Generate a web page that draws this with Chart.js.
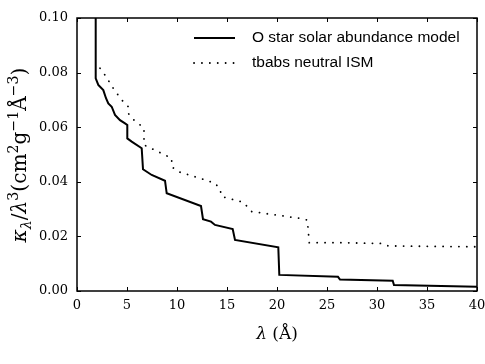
<!DOCTYPE html>
<html>
<head>
<meta charset="utf-8">
<script src="https://cdn.jsdelivr.net/npm/chart.js@4/dist/chart.umd.min.js"></script>
<style>
  html, body { margin: 0; padding: 0; background: #fff; }
  canvas { display: block; }
</style>
</head>
<body>
<canvas id="myChart" width="485" height="364"></canvas>
<script>
// data
const modelLabel = "O star solar abundance model";
const modelX = [1.87, 1.87, 2.13, 2.63, 2.9, 3.13, 3.47, 3.8, 4.3, 4.8, 5.03, 5.03, 5.47, 6.47, 6.6, 7.47, 8.8, 8.97, 12.4, 12.6, 13.4, 13.8, 15.57, 15.8, 20.13, 20.23, 26.1, 26.3, 31.57, 31.7, 40];
const modelY = [0.2, 0.0779, 0.0755, 0.0736, 0.0706, 0.0687, 0.0675, 0.0645, 0.0626, 0.0614, 0.0608, 0.0559, 0.0547, 0.0523, 0.0446, 0.0425, 0.0404, 0.0358, 0.0311, 0.0263, 0.0254, 0.0242, 0.0227, 0.0187, 0.0160, 0.0059, 0.0052, 0.0042, 0.0038, 0.0022, 0.0016];

const ismLabel = "tbabs neutral ISM";
const ismX = [2.3, 2.8, 3.63, 4.47, 5.13, 5.13, 5.47, 6.13, 6.7, 6.7, 8.13, 9.47, 9.47, 10.13, 12.3, 13.8, 14.3, 14.47, 16.63, 17.47, 22.3, 23.03, 23.23, 26.3, 30.47, 31.13, 40];
const ismY = [0.0816, 0.0791, 0.0742, 0.0700, 0.0675, 0.0651, 0.0633, 0.0614, 0.0596, 0.0535, 0.0510, 0.0486, 0.0455, 0.0437, 0.0413, 0.0395, 0.0373, 0.0346, 0.0325, 0.0291, 0.0266, 0.0260, 0.0177, 0.0177, 0.0174, 0.0165, 0.0162];

const xMin = 0, xMax = 40, xStep = 5;
const yMin = 0, yMax = 0.10, yStep = 0.02;

const serif = "'DejaVu Serif', serif";
const sans = "'Liberation Sans', Arial, sans-serif";
Chart.defaults.font.family = serif;

function toPoints(xs, ys) {
  return xs.map((x, i) => ({ x: x, y: ys[i] }));
}

// frame, inward ticks on all four sides
const framePlugin = {
  id: "frame",
  afterDraw(chart) {
    const c = chart.ctx;
    const a = chart.chartArea;
    const xs = chart.scales.x, ys = chart.scales.y;
    c.save();
    c.strokeStyle = "#000";
    c.lineWidth = 1.5;
    c.strokeRect(a.left, a.top, a.right - a.left, a.bottom - a.top);
    c.lineWidth = 1;
    c.beginPath();
    xs.ticks.forEach((t) => {
      const px = Math.round(xs.getPixelForValue(t.value)) + 0.5;
      c.moveTo(px, a.bottom); c.lineTo(px, a.bottom - 4);
      c.moveTo(px, a.top); c.lineTo(px, a.top + 4);
    });
    ys.ticks.forEach((t) => {
      const py = Math.round(ys.getPixelForValue(t.value)) + 0.5;
      c.moveTo(a.left, py); c.lineTo(a.left + 4, py);
      c.moveTo(a.right, py); c.lineTo(a.right - 4, py);
    });
    c.stroke();
    c.restore();
  },
};

// axis titles with math-like sub/superscripts
const titlesPlugin = {
  id: "titles",
  afterDraw(chart) {
    const c = chart.ctx;
    const a = chart.chartArea;
    c.save();
    c.fillStyle = "#000";
    c.textBaseline = "alphabetic";

    // x title
    const xParts = [["λ", "italic", 1, 0], [" (Å)", "normal", 1, 0]];
    drawParts(c, xParts, 17, (a.left + a.right) / 2, 339, 0);

    // y title
    const yParts = [
      ["κ", "italic", 1, 0], ["λ", "italic", 0.7, 0.25],
      ["/", "normal", 1, 0], ["λ", "italic", 1, 0], ["3", "normal", 0.7, -0.4],
      ["(cm", "normal", 1, 0], ["2", "normal", 0.7, -0.4],
      ["g", "normal", 1, 0], ["−1", "normal", 0.7, -0.4],
      ["Å", "normal", 1, 0], ["−3", "normal", 0.7, -0.4],
      [")", "normal", 1, 0],
    ];
    c.translate(26, 155);
    c.rotate(-Math.PI / 2);
    drawParts(c, yParts, 17, 0, 0, 175);
    c.restore();
  },
};

function drawParts(c, parts, size, cx, baseY, fitWidth) {
  const measure = (s) => {
    let w = 0;
    parts.forEach((p) => {
      c.font = p[1] + " " + (size * p[2] * s) + "px " + serif;
      w += c.measureText(p[0]).width;
    });
    return w;
  };
  let s = 1;
  if (fitWidth) s = fitWidth / measure(1);
  const total = measure(s);
  let x = cx - total / 2;
  parts.forEach((p) => {
    const fs = size * p[2] * s;
    c.font = p[1] + " " + fs + "px " + serif;
    c.fillText(p[0], x, baseY + p[3] * size * s);
    x += c.measureText(p[0]).width;
  });
}

// legend in the upper right, no frame
const legendPlugin = {
  id: "innerLegend",
  afterDraw(chart) {
    const c = chart.ctx;
    c.save();
    chart.data.datasets.forEach((ds, i) => {
      const y = 38 + i * 25;
      c.strokeStyle = ds.borderColor;
      c.lineWidth = ds.borderWidth;
      c.setLineDash(ds.borderDash || []);
      c.lineCap = ds.borderCapStyle || "butt";
      c.beginPath();
      c.moveTo(194, y);
      c.lineTo(235, y);
      c.stroke();
      c.setLineDash([]);
      c.fillStyle = "#000";
      c.font = "15.5px " + sans;
      c.textBaseline = "middle";
      c.fillText(ds.label, 252, y);
    });
    c.restore();
  },
};

const ctx = document.getElementById("myChart").getContext("2d");
const myChart = new Chart(ctx, {
  type: "scatter",
  data: {
    datasets: [
      {
        label: modelLabel,
        data: toPoints(modelX, modelY),
        showLine: true,
        borderColor: "#000",
        borderWidth: 2,
        pointRadius: 0,
        tension: 0,
      },
      {
        label: ismLabel,
        data: toPoints(ismX, ismY),
        showLine: true,
        borderColor: "#000",
        borderWidth: 1.8,
        borderDash: [0.1, 7.8],
        borderCapStyle: "round",
        pointRadius: 0,
        tension: 0,
      },
    ],
  },
  options: {
    responsive: false,
    animation: false,
    devicePixelRatio: 1,
    layout: { padding: { top: 18, right: 0, left: 0, bottom: 0 } },
    plugins: { legend: { display: false }, tooltip: { enabled: false } },
    scales: {
      x: {
        type: "linear",
        min: xMin,
        max: xMax,
        grid: { display: false, drawTicks: false },
        border: { display: false },
        ticks: {
          stepSize: xStep,
          padding: 7,
          color: "#000",
          font: { family: serif, size: 13 },
          maxRotation: 0,
          callback: (v) => String(v),
        },
        afterFit(scale) { scale.height = 73; scale.paddingRight = 8; },
      },
      y: {
        type: "linear",
        min: yMin,
        max: yMax,
        grid: { display: false, drawTicks: false },
        border: { display: false },
        ticks: {
          stepSize: yStep,
          padding: 9,
          color: "#000",
          font: { family: serif, size: 13 },
          callback: (v) => v.toFixed(2),
        },
        afterFit(scale) { scale.width = 77; },
      },
    },
  },
  plugins: [framePlugin, titlesPlugin, legendPlugin],
});
</script>
</body>
</html>
